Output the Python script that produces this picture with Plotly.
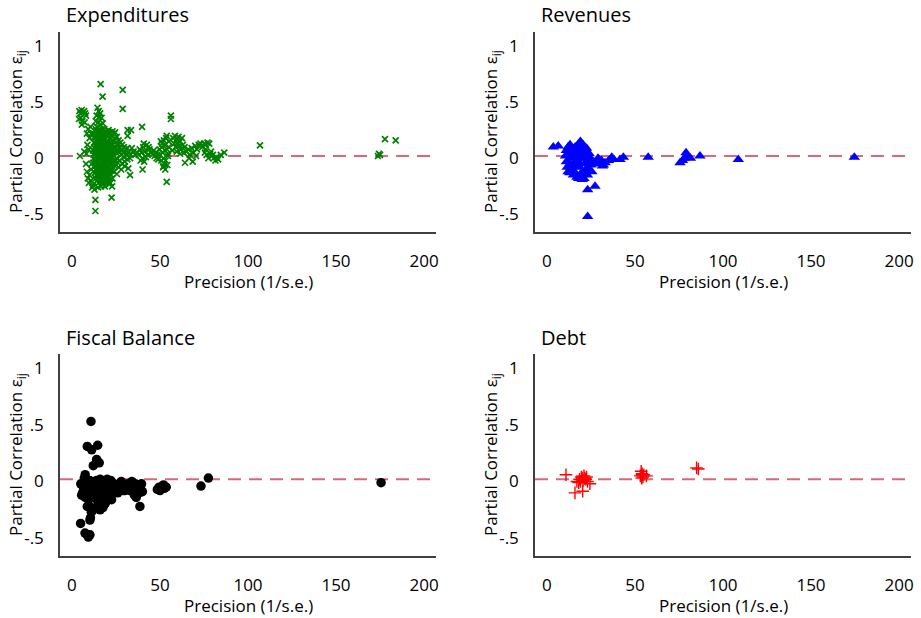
import plotly.graph_objects as go

# ---------------- data ----------------
exp_points = [
    # left group x 4-12
    (4.2,0.42),(4.8,0.40),(5.5,0.43),(6.2,0.41),(6.9,0.42),(7.5,0.40),(5.0,0.36),(4.0,0.35),(6.0,0.33),(7.2,0.32),(8.0,0.38),(5.6,0.30),
    (8.5,0.22),(9.2,0.26),(10.0,0.18),(8.8,0.12),(9.5,0.08),(10.5,0.28),(11.0,0.22),
    (8.0,-0.05),(8.5,-0.12),(9.0,-0.18),(10.0,-0.15),(11.0,-0.10),(9.6,-0.22),(10.8,-0.20),(11.5,-0.26),(12.0,-0.24),(12.8,-0.28),(11.2,-0.05),(4.5,0.02),(7.0,0.06),(8.2,0.04),
    # upper core
    (14.5,0.45),(15.2,0.42),(16.0,0.40),(14.0,0.38),(15.5,0.37),(16.8,0.36),(13.5,0.33),(15.0,0.32),(16.2,0.30),(17.5,0.31),(14.2,0.28),
    # dense core
    (12.2,0.22),(13.1,0.18),(13.8,0.24),(14.6,0.20),(15.4,0.25),(16.3,0.22),(17.1,0.26),(18.0,0.21),(19.2,0.24),(20.1,0.19),(21.3,0.23),(22.5,0.20),(23.8,0.22),(24.6,0.18),
    (12.5,0.14),(13.4,0.11),(14.2,0.15),(15.0,0.12),(15.9,0.16),(16.7,0.13),(17.6,0.17),(18.5,0.12),(19.4,0.15),(20.4,0.11),(21.5,0.14),(22.6,0.12),(23.5,0.15),(24.9,0.10),(26.0,0.13),(27.2,0.10),
    (12.0,0.07),(12.9,0.04),(13.7,0.08),(14.5,0.05),(15.3,0.09),(16.1,0.06),(17.0,0.08),(17.9,0.04),(18.8,0.07),(19.7,0.05),(20.6,0.08),(21.6,0.04),(22.7,0.07),(23.6,0.03),(24.5,0.06),(25.6,0.04),(26.7,0.06),(28.0,0.03),
    (12.4,0.00),(13.2,-0.03),(14.0,0.01),(14.8,-0.02),(15.7,0.02),(16.5,-0.01),(17.4,0.01),(18.3,-0.03),(19.1,0.00),(20.0,-0.02),(21.0,0.01),(22.0,-0.02),(23.1,0.00),(24.2,-0.03),(25.3,0.00),
    (12.7,-0.07),(13.6,-0.05),(14.4,-0.09),(15.2,-0.06),(16.0,-0.10),(16.9,-0.07),(17.8,-0.09),(18.7,-0.06),(19.6,-0.10),(20.5,-0.07),(21.4,-0.09),(22.4,-0.05),(23.3,-0.08),
    (13.0,-0.13),(13.9,-0.15),(14.7,-0.12),(15.6,-0.16),(16.4,-0.13),(17.3,-0.17),(18.2,-0.14),(19.0,-0.16),(19.9,-0.13),(20.8,-0.17),(21.8,-0.14),
    (14.2,-0.20),(15.1,-0.22),(16.2,-0.19),(17.1,-0.23),(18.0,-0.20),(19.3,-0.22),(20.3,-0.20),(21.2,-0.23),(16.6,-0.25),(14.8,-0.26),(18.6,-0.25),
    (12.6,0.19),(13.5,0.26),(14.9,0.23),(15.8,0.19),(16.7,0.24),(17.5,0.20),(18.4,0.26),(19.8,0.21),(20.8,0.25),(22.0,0.17),
    (13.0,0.09),(13.9,0.13),(14.8,0.10),(15.6,0.14),(16.4,0.09),(17.2,0.11),(18.1,0.15),(19.0,0.10),(20.0,0.14),(21.0,0.09),(22.1,0.10),(23.1,0.12),(24.1,0.08),
    (12.3,0.03),(13.4,0.06),(14.3,0.02),(15.0,0.04),(15.9,0.00),(16.8,0.03),(17.6,0.06),(18.6,0.01),(19.5,0.03),(20.3,0.06),(21.2,0.02),(22.3,0.04),(23.3,0.05),
    (12.1,-0.04),(13.0,-0.01),(13.8,-0.06),(14.6,-0.04),(15.4,-0.03),(16.2,-0.05),(17.1,-0.03),(18.0,-0.06),(18.9,-0.03),(19.8,-0.05),(20.7,-0.03),(21.7,-0.06),(22.8,-0.03),
    (13.3,-0.10),(14.1,-0.11),(15.0,-0.14),(15.8,-0.08),(16.6,-0.15),(17.5,-0.12),(18.4,-0.10),(19.3,-0.12),(20.2,-0.10),(21.1,-0.12),(22.6,-0.11),
    (15.4,-0.18),(16.8,-0.20),(17.7,-0.16),(18.9,-0.19),(19.7,-0.18),(20.9,-0.21),(13.6,-0.18),
    # tail x 20-37
    (21.5,0.22),(23.0,0.24),(24.5,0.23),(22.5,0.20),(25.5,0.19),(26.5,0.16),(27.5,0.14),(28.5,0.12),(29.5,0.10),(30.5,0.08),(31.5,0.09),
    (26.0,0.07),(27.0,0.09),(28.0,0.07),(29.0,0.05),(30.0,0.06),(31.0,0.03),(32.0,0.05),(33.0,0.04),
    (25.0,-0.02),(26.0,-0.04),(27.0,-0.02),(28.5,-0.05),(30.0,-0.03),(31.5,-0.01),(33.0,0.00),(26.5,-0.08),(28.0,-0.10),(30.0,-0.07),(32.0,-0.09),
    (24.0,-0.12),(25.5,-0.14),(23.0,-0.18),(21.8,-0.22),(22.8,-0.25),(35.0,0.06),(36.0,0.03),(34.0,0.09),(37.0,0.05),(29.5,0.01),(24.5,-0.07),
    (31.6,0.25),(33.5,0.25),(31.6,0.20),
    # x 38-49
    (38.5,0.08),(39.5,0.05),(40.5,0.10),(41.5,0.06),(42.5,0.12),(43.0,0.03),(40.0,0.00),(41.0,-0.03),(39.0,-0.02),(42.0,0.01),(44.0,0.08),(45.0,0.05),(38.0,0.03),(40.8,0.13),(43.5,0.10),
    (46.0,0.04),(47.0,0.02),(48.0,0.00),(48.5,0.03),(49.0,-0.01),(47.5,0.05),(46.5,0.07),
    # column x 50-55
    (50.5,0.15),(51.0,0.10),(51.5,0.05),(52.0,0.00),(52.5,-0.05),(53.0,0.12),(53.5,0.18),(54.0,0.08),(54.5,0.02),(55.0,0.15),(50.0,0.03),(50.8,-0.02),
    (51.8,-0.08),(52.8,0.07),(53.2,-0.02),(54.2,-0.06),(55.0,0.10),(53.8,0.20),(51.2,0.13),(52.2,0.16),(49.8,0.08),(54.6,0.04),(53.0,-0.10),(52.0,-0.07),
    # x 57-65
    (57.5,0.18),(58.5,0.20),(59.5,0.17),(60.5,0.19),(61.5,0.15),(62.5,0.18),(58.0,0.13),(59.0,0.10),(60.0,0.14),(61.0,0.11),(62.0,0.08),(63.0,0.12),(64.0,0.10),(57.0,0.07),(59.5,0.06),(61.5,0.04),(63.5,0.05),
    # x 64-75
    (65.0,0.06),(66.0,0.08),(67.0,0.03),(68.0,0.09),(69.0,0.05),(70.0,0.11),(71.0,0.08),(72.0,0.12),(73.0,0.13),(74.0,0.10),(64.2,-0.04),(68.6,-0.03),(66.5,0.00),(70.5,0.02),
    # x 75-87
    (75.0,0.13),(76.0,0.12),(77.0,0.14),(78.0,0.13),(75.5,0.05),(76.5,0.03),(77.5,0.00),(78.5,0.04),(79.5,0.02),(80.5,0.00),(81.5,-0.02),(82.0,0.01),(83.0,-0.01),(76.0,0.08),(79.0,0.06),(80.0,0.03),
    (84.5,0.03),(86.5,0.05),
    # outliers
    (16.3,0.66),(17.4,0.55),(28.8,0.61),(28.8,0.44),(13.3,-0.37),(13.3,-0.47),(22.5,-0.35),(33.0,-0.15),(40.1,-0.10),(39.8,0.28),
    (53.8,-0.21),(56.2,0.38),(56.2,0.35),(106.8,0.115),(177.8,0.17),(183.9,0.16),(174.4,0.04),(175.0,0.03),(173.8,0.02),
]

rev_points = [
    (10.5,0.02),(11.0,-0.03),(11.5,-0.08),(12.5,0.05),(12.0,-0.12),(13.0,-0.05),(13.5,0.00),(14.0,0.06),(14.5,-0.10),(15.0,-0.15),
    (15.5,0.04),(16.0,0.10),(16.5,-0.02),(17.0,-0.17),(17.5,0.08),(18.0,0.13),(18.5,-0.08),(19.0,0.15),(19.5,0.03),(20.0,-0.12),
    (20.5,0.12),(21.0,-0.18),(21.5,0.08),(22.0,-0.05),(22.5,0.05),(23.0,-0.15),(23.5,0.02),(24.0,-0.10),(24.5,0.00),(25.0,-0.06),
    (25.5,-0.12),(17.0,-0.06),(18.0,0.00),(19.0,-0.05),(20.0,0.05),(21.0,0.00),(22.0,-0.10),(19.0,-0.15),(18.0,-0.18),(16.0,-0.13),
    (15.0,-0.05),(20.0,-0.19),(21.0,-0.14),(22.5,0.09),(19.5,0.10),(17.0,0.05),(16.0,0.02),(14.0,-0.07),(13.0,-0.13),(12.0,0.10),
    (23.0,-0.02),(24.0,0.04),(11.0,0.07),
    (26.5,-0.03),(28.0,-0.05),(29.0,0.00),(30.0,-0.05),(31.0,-0.02),(32.0,-0.06),(33.0,-0.04),(35.0,-0.02),(36.8,0.01),(38.0,-0.01),
    (41.5,-0.01),(43.4,0.01),(31.5,-0.07),
    (3.6,0.10),(6.4,0.11),(13.1,0.12),(23.1,-0.28),(27.3,-0.25),(23.1,-0.52),(57.5,0.01),(75.6,-0.04),(78.0,0.00),(79.0,0.05),
    (80.0,0.02),(81.5,0.00),(77.0,-0.02),(86.9,0.02),(108.7,-0.01),(174.6,0.01),
]

fb_points = [
    (5.0,-0.02),(6.5,-0.05),(7.0,0.03),(8.0,-0.02),(6.0,-0.10),(7.5,-0.14),(9.0,-0.06),(8.5,-0.12),(10.0,0.01),(10.5,-0.04),
    (11.0,-0.08),(9.5,-0.16),(7.5,0.06),(5.5,-0.12),
    (10.8,0.53),(8.7,0.31),(11.2,0.28),(14.6,0.32),(14.0,0.195),(15.5,0.165),(12.1,0.14),
    (4.9,-0.37),(7.4,-0.455),(8.7,-0.47),(10.2,-0.47),(9.3,-0.49),(10.2,-0.34),(10.5,-0.32),(8.7,-0.22),(10.8,-0.23),
    (13.6,-0.23),(15.5,-0.22),(17.6,-0.23),(18.5,-0.20),(16.0,-0.25),(12.0,-0.25),(11.0,-0.27),
    (13.0,-0.02),(14.0,0.01),(15.0,-0.05),(16.0,0.02),(17.0,-0.08),(18.0,0.00),(19.0,-0.12),(20.0,-0.03),(21.0,-0.09),(22.0,0.01),
    (23.0,-0.06),(24.0,-0.10),(25.0,-0.03),(26.0,-0.07),(27.0,-0.02),(28.0,-0.05),(29.0,-0.08),(30.0,-0.03),(31.0,-0.06),(32.0,-0.02),
    (33.0,-0.05),(34.0,0.00),(35.0,-0.04),(36.0,-0.08),(37.0,-0.03),(38.0,-0.06),(39.0,-0.04),(40.0,-0.09),(35.5,-0.12),(36.5,-0.14),
    (17.0,-0.15),(18.0,-0.17),(19.0,-0.05),(20.0,-0.14),(21.0,-0.02),(22.0,-0.12),(16.0,-0.11),(15.0,-0.14),(14.0,-0.08),(13.0,-0.10),
    (24.0,-0.05),(26.0,-0.10),(28.0,0.00),(30.0,-0.08),(32.0,-0.07),(34.0,-0.05),(36.0,-0.02),(38.0,-0.10),(12.5,-0.05),(13.5,-0.15),
    (18.5,-0.09),(20.5,-0.07),(23.0,-0.01),(25.0,-0.08),(27.0,-0.06),(29.0,-0.02),(31.0,-0.03),(33.0,-0.08),(35.0,-0.06),(37.0,-0.07),
    (39.5,-0.02),(16.5,-0.04),(17.5,0.01),(19.5,-0.02),(21.5,-0.05),(22.5,-0.16),(19.0,-0.19),(20.0,0.02),
    (38.6,-0.22),
    (48.5,-0.07),(49.5,-0.05),(50.5,-0.06),(51.5,-0.04),(52.5,-0.06),(53.5,-0.05),(50.0,-0.08),(52.0,-0.03),
    (73.3,-0.04),(77.5,0.03),(175.6,-0.01),
]

debt_points = [
    (10.8,0.06),(15.9,-0.10),(20.3,-0.086),(17.0,0.00),(18.0,-0.01),(18.5,0.02),(19.5,0.04),(20.5,0.01),(21.0,0.05),(21.5,0.03),
    (22.0,0.02),(22.5,0.04),(23.0,0.00),(24.4,-0.02),(19.0,0.00),(20.0,0.03),
    (53.0,0.05),(53.5,0.09),(54.0,0.07),(54.5,0.04),(53.8,0.03),(55.0,0.06),(56.5,0.05),(54.0,0.06),
    (85.0,0.12),(86.0,0.11),
]

panel_titles = ["Expenditures", "Revenues", "Fiscal Balance", "Debt"]
x_ticks = [0, 50, 100, 150, 200]
y_ticks = [1, 0.5, 0, -0.5]
y_tick_text = ["1", ".5", "0", "-.5"]
ref_value = 0.02
x_title = "Precision (1/s.e.)"
y_title = "Partial Correlation ε<sub>ij</sub>"

# ---------------- figure ----------------
W, H = 921, 618
FONT = "Open Sans"

def px_x(p):
    return p / W

def px_y(p):
    return 1 - p / H

panels = [
    dict(pts=exp_points, sym="x-thin", size=6, color="#008000", lw=1.7, x0=60, x1=436, y0=32, y1=232),
    dict(pts=rev_points, sym="triangle-up", size=10, color="#0000ff", lw=0, x0=535, x1=911, y0=32, y1=232),
    dict(pts=fb_points, sym="circle", size=9.5, color="#000000", lw=0, x0=60, x1=436, y0=354, y1=556),
    dict(pts=debt_points, sym="cross-thin", size=9, color="#ff0000", lw=1.4, x0=535, x1=911, y0=354, y1=556),
]

fig = go.Figure()
annotations = []
shapes = []
for i, p in enumerate(panels):
    n = "" if i == 0 else str(i + 1)
    xa, ya = "x" + n, "y" + n
    xs = [q[0] for q in p["pts"]]
    ys = [q[1] for q in p["pts"]]
    marker = dict(symbol=p["sym"], size=p["size"], color=p["color"])
    if p["lw"]:
        marker["line"] = dict(width=p["lw"], color=p["color"])
    fig.add_trace(go.Scatter(x=xs, y=ys, mode="markers", marker=marker,
                             xaxis=xa, yaxis=ya, showlegend=False, cliponaxis=False))
    axis_common = dict(showgrid=False, zeroline=False, showline=True, linecolor="#404040",
                       linewidth=1.5, ticks="", automargin=False,
                       tickfont=dict(family=FONT, size=17, color="#000"))
    fig.layout["xaxis" + n] = dict(axis_common, domain=[px_x(p["x0"]), px_x(p["x1"])],
                                   range=[-6.8, 206.8], tickvals=x_ticks, anchor=ya,
                                   ticklabelstandoff=13)
    fig.layout["yaxis" + n] = dict(axis_common, domain=[px_y(p["y1"]), px_y(p["y0"])],
                                   range=[-0.657, 1.125], tickvals=y_ticks, ticktext=y_tick_text,
                                   anchor=xa, ticklabelstandoff=11)
    shapes.append(dict(type="line", xref=xa + " domain", yref=ya, x0=0, x1=1,
                       y0=ref_value, y1=ref_value,
                       line=dict(color="#d46a7e", width=1.8, dash="13px,8px"), layer="below"))
    # panel title
    annotations.append(dict(text=panel_titles[i], xref="paper", yref="paper",
                            x=px_x(p["x0"] + 4), y=px_y(p["y0"] - 17), xanchor="left", yanchor="middle",
                            showarrow=False, font=dict(family=FONT, size=20, color="#000")))
    # x title
    annotations.append(dict(text=x_title, xref="paper", yref="paper",
                            x=px_x((p["x0"] + p["x1"]) / 2), y=px_y(p["y1"] + 49),
                            xanchor="center", yanchor="middle", showarrow=False,
                            font=dict(family=FONT, size=17, color="#000")))
    # y title
    annotations.append(dict(text=y_title, xref="paper", yref="paper",
                            x=px_x(p["x0"] - 44), y=px_y((p["y0"] + p["y1"]) / 2),
                            xanchor="center", yanchor="middle", textangle=-90, showarrow=False,
                            font=dict(family=FONT, size=17, color="#000")))

fig.update_layout(width=W, height=H, margin=dict(l=0, r=0, t=0, b=0),
                  paper_bgcolor="white", plot_bgcolor="white",
                  annotations=annotations, shapes=shapes)

fig.write_html("out.html", config={"displayModeBar": False},
               post_script="document.body.style.margin='0';")
